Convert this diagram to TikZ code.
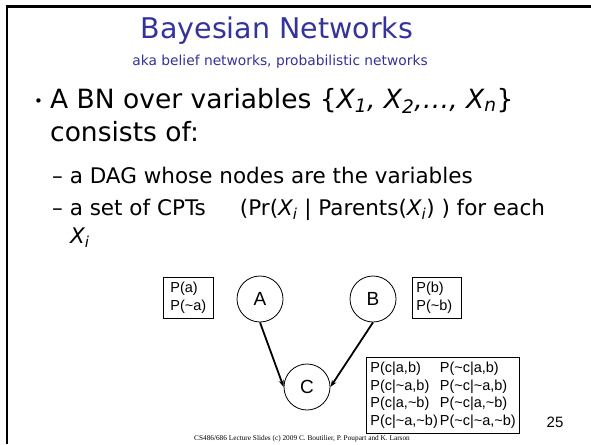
\documentclass[tikz,border=0pt]{standalone}
\usepackage{fontspec}
\setmainfont{DejaVu Sans}
\newfontfamily\arialfont{Liberation Sans}
\newfontfamily\footfont{Liberation Serif}
\usetikzlibrary{arrows.meta}
\definecolor{titleblue}{RGB}{51,51,153}
\tikzset{
  slidetext/.style={anchor=base west, inner sep=0pt},
  bigtext/.style={slidetext, font=\fontsize{26.5}{30}\selectfont},
  subtext/.style={slidetext, font=\fontsize{21.5}{24}\selectfont},
  cpt/.style={draw, line width=0.8pt, font=\arialfont\fontsize{14.5}{17.5}\selectfont, align=left, inner sep=0pt},
  var/.style={draw, circle, line width=0.8pt, minimum size=46pt, inner sep=0pt, font=\arialfont\fontsize{19}{19}\selectfont},
  edge/.style={line width=1.8pt, -{Stealth[length=7pt,width=5pt]}}
}
\begin{document}
\begin{tikzpicture}[x=1pt,y=-1pt]
\useasboundingbox (0,0) rectangle (591,444);
\fill[white] (0,0) rectangle (591,444);
% slide frame
\draw[line width=2.6pt] (7,444) -- (7,6.5) -- (591,6.5);

% heading
\node[anchor=base, inner sep=0pt, text=titleblue, font=\fontsize{28.5}{30}\selectfont] (title) at (277,38) {Bayesian Networks};
\node[anchor=base, inner sep=0pt, text=titleblue, font=\fontsize{13.8}{15}\selectfont] (subtitle) at (280,65) {aka belief networks, probabilistic networks};

% bullet text
\node[slidetext, font=\fontsize{15}{20}\selectfont] (bullet) at (34,106) {•};
\node[bigtext] (line1) at (50,108) {A BN over variables \{\textit{X\textsubscript{1}, X\textsubscript{2},…, X\textsubscript{n}}\}};
\node[bigtext] (line2) at (50,141) {consists of:};
\node[subtext] (line3) at (52,183) {– a DAG whose nodes are the variables};
\node[subtext] (line4) at (52,215) {– a set of CPTs\ \ \ \ \ (Pr(\textit{X\textsubscript{i}} | Parents(\textit{X\textsubscript{i}}) ) for each};
\node[subtext] (line5) at (70,243) {\textit{X\textsubscript{i}}};

% network
\node[var] (A) at (260,299) {A};
\node[var] (B) at (373,299) {B};
\node[var] (C) at (307,387) {C};
\node[cpt, anchor=north west, minimum width=50pt, minimum height=41pt, text width=36pt, inner xsep=7pt] (pa) at (163,277) {P(a)\\P(\char`~a)};
\node[cpt, anchor=north west, minimum width=49pt, minimum height=41pt, text width=41pt, inner xsep=4pt] (pb) at (412,277) {P(b)\\P(\char`~b)};
\node[cpt, anchor=north west, inner xsep=4pt, inner ysep=3pt] (pc) at (366,357) {%
\begin{tabular}{@{}l@{\hspace{2pt}}l@{}}
P(c|a,b) & P(\char`~c|a,b)\\
P(c|\char`~a,b) & P(\char`~c|\char`~a,b)\\
P(c|a,\char`~b) & P(\char`~c|a,\char`~b)\\
P(c|\char`~a,\char`~b) & P(\char`~c|\char`~a,\char`~b)
\end{tabular}};
\draw[edge] (A.south) -- (C.west);
\draw[edge] (B.south) -- (C.east);

% footer
\node[anchor=base, inner sep=0pt, font=\footfont\fontsize{7.3}{8}\selectfont] (footer) at (302,440) {CS486/686 Lecture Slides (c) 2009 C. Boutilier, P. Poupart and K. Larson};
\node[anchor=base, inner sep=0pt, font=\arialfont\fontsize{15}{16}\selectfont] (pagenum) at (555,427) {25};
\end{tikzpicture}
\end{document}
